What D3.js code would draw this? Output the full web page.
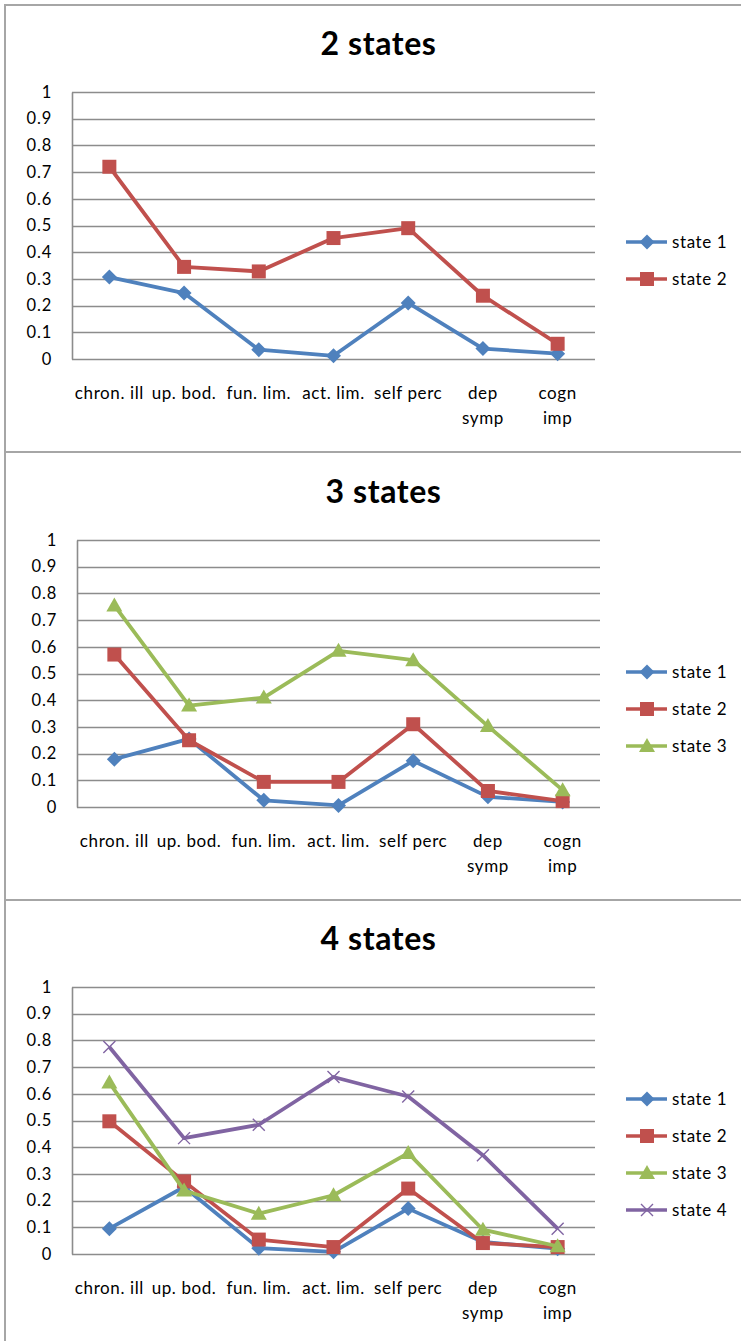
<!DOCTYPE html>
<html>
<head>
<meta charset="utf-8">
<script src="https://cdn.jsdelivr.net/npm/d3@7/dist/d3.min.js"></script>
<style>
  html, body { margin: 0; padding: 0; background: #fff; }
  svg { display: block; }
  text { font-family: Lato, "Open Sans", sans-serif; fill: #000; }
</style>
</head>
<body>
<script>
// Indicator categories on the x axis (multi-line labels split on "\n")
const categories = ["chron. ill", "up. bod.", "fun. lim.", "act. lim.", "self perc", "dep\nsymp", "cogn\nimp"];
const yTicks = [0, 0.1, 0.2, 0.3, 0.4, 0.5, 0.6, 0.7, 0.8, 0.9, 1];

// 2-state model
const twoState1 = [0.307, 0.247, 0.035, 0.012, 0.21, 0.039, 0.02];
const twoState2 = [0.72, 0.345, 0.328, 0.453, 0.49, 0.237, 0.057];

// 3-state model
const threeState1 = [0.179, 0.255, 0.025, 0.006, 0.173, 0.038, 0.019];
const threeState2 = [0.571, 0.25, 0.094, 0.094, 0.31, 0.06, 0.022];
const threeState3 = [0.755, 0.38, 0.41, 0.585, 0.55, 0.303, 0.063];

// 4-state model
const fourState1 = [0.095, 0.251, 0.022, 0.008, 0.17, 0.045, 0.02];
const fourState2 = [0.497, 0.272, 0.054, 0.026, 0.245, 0.041, 0.026];
const fourState3 = [0.642, 0.238, 0.151, 0.22, 0.378, 0.091, 0.029];
const fourState4 = [0.775, 0.434, 0.484, 0.663, 0.59, 0.37, 0.095];

const seriesNames = ["state 1", "state 2", "state 3", "state 4"];
const seriesColors = ["#4F81BD", "#C0504D", "#9BBB59", "#8064A2"];
const seriesMarkers = ["diamond", "square", "triangle", "cross"];

const panels = [
  { title: "2 states", top: 0,   left: 72, right: 595, series: [twoState1, twoState2], legendTop: 242 },
  { title: "3 states", top: 448, left: 77, right: 600, series: [threeState1, threeState2, threeState3], legendTop: 224 },
  { title: "4 states", top: 895, left: 72, right: 595, series: [fourState1, fourState2, fourState3, fourState4], legendTop: 204 }
];

const W = 741, H = 1341;
const svg = d3.select("body").append("svg").attr("width", W).attr("height", H);

// panel frame lines
const frameColor = "#a6a6a6";
svg.append("line").attr("x1", 5).attr("x2", 5).attr("y1", 4).attr("y2", H).attr("stroke", frameColor).attr("stroke-width", 2);
[5, 452, 900].forEach(y => {
  svg.append("line").attr("x1", 4).attr("x2", W).attr("y1", y).attr("y2", y).attr("stroke", frameColor).attr("stroke-width", 2);
});

// Excel-style marker shapes
function markerPath(type) {
  if (type === "diamond") return "M0,-7.5L7.5,0L0,7.5L-7.5,0Z";
  if (type === "square") return "M-7,-7H7V7H-7Z";
  if (type === "triangle") return "M0,-8L8,6H-8Z";
  return "M-6,-6L6,6M-6,6L6,-6";
}

panels.forEach(p => {
  const g = svg.append("g").attr("transform", `translate(0,${p.top})`);
  const plotTop = 92, plotBottom = 359;

  const x = d3.scaleBand().domain(categories).range([p.left, p.right]);
  const y = d3.scaleLinear().domain([0, 1]).range([plotBottom, plotTop]);
  const cx = c => x(c) + x.bandwidth() / 2;

  // title
  g.append("text")
    .attr("x", (p.left + p.right) / 2 + 45).attr("y", 55)
    .attr("text-anchor", "middle")
    .style("font-size", "32px").style("font-weight", "bold")
    .style("letter-spacing", "0.6px")
    .text(p.title);

  // horizontal gridlines
  g.append("g").selectAll("line").data(yTicks).join("line")
    .attr("x1", p.left).attr("x2", p.right)
    .attr("y1", d => Math.round(y(d)) + 0.5).attr("y2", d => Math.round(y(d)) + 0.5)
    .attr("stroke", "#8c8c8c").attr("stroke-width", 1.4);

  // y axis
  const yAxis = g.append("g").attr("transform", `translate(${p.left},0)`)
    .call(d3.axisLeft(y).tickValues(yTicks).tickSize(0).tickPadding(20).tickFormat(d => d3.format("")(d)));
  yAxis.select(".domain").attr("stroke", "#8c8c8c").attr("stroke-width", 1.6);
  yAxis.selectAll("text").style("font-size", "16.5px").style("letter-spacing", "0.8px").attr("fill", "#000");

  // x axis labels
  const xLabels = g.append("g").selectAll("text").data(categories).join("text")
    .attr("x", d => cx(d)).attr("y", 399)
    .attr("text-anchor", "middle")
    .style("font-size", "17px").style("letter-spacing", "0.6px");
  xLabels.each(function(d) {
    const lines = d.split("\n");
    d3.select(this).selectAll("tspan").data(lines).join("tspan")
      .attr("x", cx(d)).attr("dy", (l, i) => i === 0 ? 0 : 25).text(l => l);
  });

  // series lines and markers
  const line = d3.line().x((v, i) => cx(categories[i])).y(v => y(v));
  p.series.forEach((vals, si) => {
    const col = seriesColors[si];
    g.append("path").datum(vals).attr("d", line)
      .attr("fill", "none").attr("stroke", col).attr("stroke-width", 3.8)
      .attr("stroke-linejoin", "round");
    const m = seriesMarkers[si];
    g.append("g").selectAll("path").data(vals).join("path")
      .attr("transform", (v, i) => `translate(${cx(categories[i])},${y(v)})`)
      .attr("d", markerPath(m))
      .attr("fill", m === "cross" ? "none" : col)
      .attr("stroke", col)
      .attr("stroke-width", m === "cross" ? 1.4 : 0);
  });

  // legend
  const lg = g.append("g").attr("transform", `translate(626,${p.legendTop})`);
  p.series.forEach((vals, si) => {
    const row = lg.append("g").attr("transform", `translate(0,${si * 37})`);
    row.append("line").attr("x1", 0).attr("x2", 41).attr("y1", 0).attr("y2", 0)
      .attr("stroke", seriesColors[si]).attr("stroke-width", 3.6);
    const m = seriesMarkers[si];
    row.append("path").attr("transform", "translate(21,0)").attr("d", markerPath(m))
      .attr("fill", m === "cross" ? "none" : seriesColors[si])
      .attr("stroke", seriesColors[si]).attr("stroke-width", m === "cross" ? 1.4 : 0);
    row.append("text").attr("x", 46).attr("y", 0).attr("dy", "0.35em")
      .style("font-size", "17px").style("letter-spacing", "0.6px").text(seriesNames[si]);
  });
});
</script>
</body>
</html>
